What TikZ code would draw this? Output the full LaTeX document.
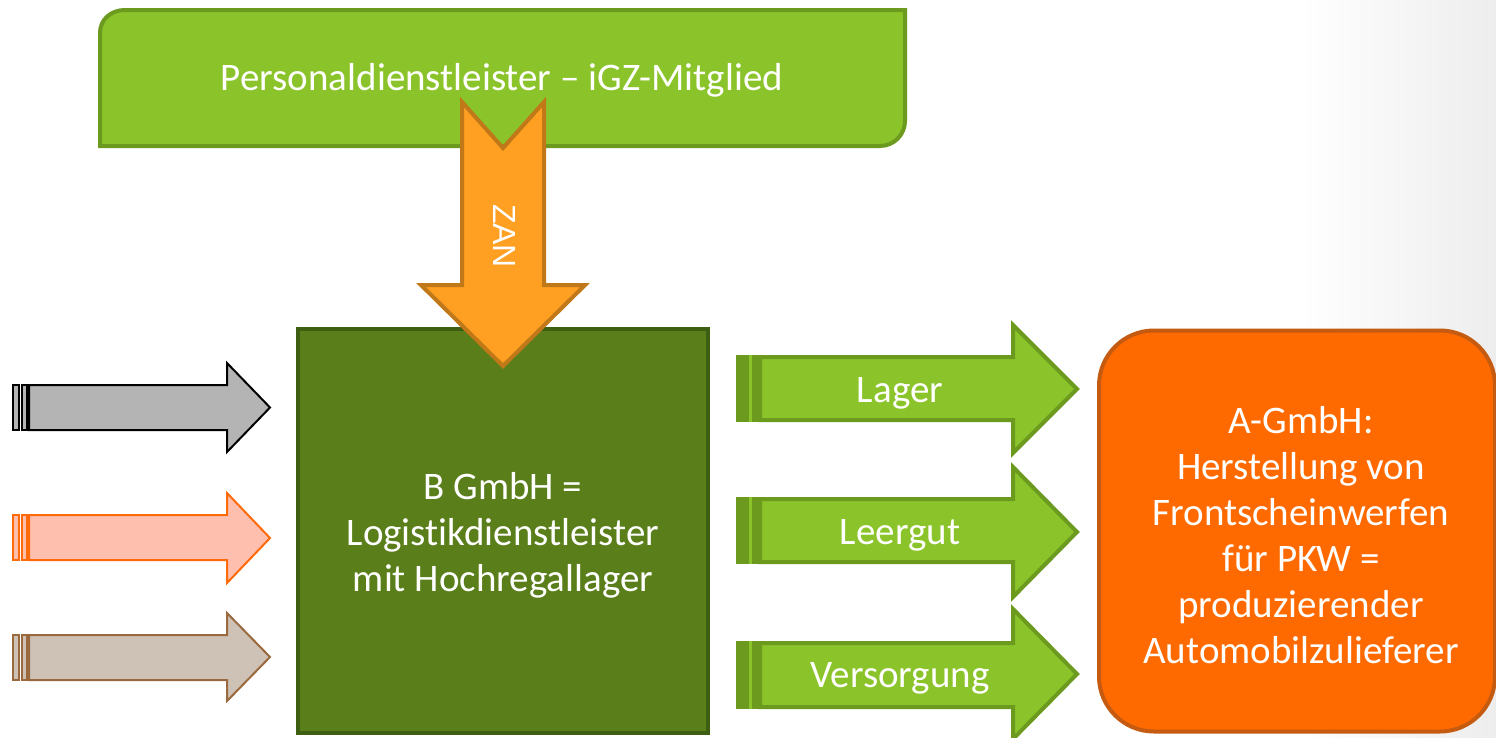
\documentclass[tikz,border=0pt]{standalone}
\usepackage{fontspec}
\setmainfont{Carlito}[Ligatures=NoCommon]
\newfontfamily\zanfont{Liberation Sans}

\definecolor{lgfill}{HTML}{8BC42A}
\definecolor{lgdraw}{HTML}{6B9A1F}
\definecolor{dgfill}{HTML}{5A7E1A}
\definecolor{dgdraw}{HTML}{3E5F12}
\definecolor{zanfill}{HTML}{FFA023}
\definecolor{zandraw}{HTML}{C07818}
\definecolor{orfill}{HTML}{FF6A00}
\definecolor{ordraw}{HTML}{C55A11}
\definecolor{greyfill}{HTML}{B4B4B4}
\definecolor{salfill}{HTML}{FFBFAE}
\definecolor{saldraw}{HTML}{FF6A0A}
\definecolor{brfill}{HTML}{CEC1B6}
\definecolor{brdraw}{HTML}{9A6A3E}

% right-pointing block arrow: style, tail x, head base x, tip x,
% shaft top, shaft bottom, head top, head bottom
\newcommand\rightblockarrow[8]{%
  \draw[#1] (#2,#5) -- (#3,#5) -- (#3,#7) -- (#4,{(#7+#8)/2})
    -- (#3,#8) -- (#3,#6) -- (#2,#6) -- cycle;}

\begin{document}
\begin{tikzpicture}[x=1pt,y=-1pt,
  txt/.style={text=white,font=\fontsize{39}{46}\selectfont,align=center},
  topbox/.style={fill=lgfill,draw=lgdraw,line width=4pt},
  midbox/.style={fill=dgfill,draw=dgdraw,line width=4pt,minimum width=410,
    minimum height=404,inner sep=0pt},
  rightbox/.style={fill=orfill,draw=ordraw,line width=4pt,rounded corners=55,
    minimum width=396,minimum height=401,inner sep=0pt},
  greyarrow/.style={fill=greyfill,draw=black,line width=2pt,line join=miter},
  salarrow/.style={fill=salfill,draw=saldraw,line width=2pt,line join=miter},
  brarrow/.style={fill=brfill,draw=brdraw,line width=2pt,line join=miter},
  greenarrow/.style={fill=lgfill,draw=lgdraw,line width=4pt,line join=miter},
  greenbar/.style={fill=lgdraw,draw=none},
  zanarrow/.style={fill=zanfill,draw=zandraw,line width=4pt,line join=miter}]

% page and soft grey fade at the right edge
\fill[white] (0,0) rectangle (1496,737);
\shade[left color=white,right color=black!7,draw=none] (1300,0) rectangle (1496,737);
\useasboundingbox (0,0) rectangle (1496,737);

% staffing provider
\draw[topbox] (100,146) -- (100,33) .. controls (100,19.2) and (111.2,10) .. (125,10)
  -- (905,10) -- (905,121) .. controls (905,134.8) and (893.8,146) .. (880,146) -- cycle;
\node[txt] (provider) at (502,80) {Personaldienstleister – iGZ-Mitglied};

% logistics provider
\node[midbox,txt] (bgmbh) at (503,531) {};
\node[txt] (bgmbhtext) at (503,535)
  {B GmbH =\\Logist\kern0pt ikdienstleister\\mit Hochregallager};

% automotive supplier
\node[rightbox,txt] (agmbh) at (1297,531) {};
\node[txt] (agmbhtext) at (1301,535)
  {A-GmbH:\\Herstellung von\\Frontscheinwerfen\\für PKW =\\produzierender\\Automobilzulieferer};

% incoming arrows on the left
\foreach \st/\a/\b/\c/\d in {greyarrow/385/430/363/452, salarrow/515/560/493/583,
                              brarrow/635/680/613/701}{
  \draw[\st] (13,\a) rectangle (19,\b);
  \draw[\st] (22,\a) rectangle (27,\b);
  \rightblockarrow{\st}{29}{227}{270}{\a}{\b}{\c}{\d}
}

% outgoing flows to the supplier
\foreach \a/\b/\c/\d in {357/420/325/453, 499/562/467/597, 643/707/609/739}{
  \fill[lgfill] (736,\a-2) rectangle (760,\b+2);
  \fill[greenbar] (736,\a-2) rectangle (749,\b+2);
  \fill[greenbar] (752,\a-2) rectangle (760,\b+2);
  \rightblockarrow{greenarrow}{760}{1013}{1077}{\a}{\b}{\c}{\d}
}
\node[txt] (lager) at (900,393) {Lager};
\node[txt] (leergut) at (900,535) {Leergut};
\node[txt] (versorgung) at (900,678) {Versorgung};

% temporary staffing arrow
\draw[zanarrow] (462,102) -- (503,148) -- (544,102) -- (544,285) -- (585,285)
  -- (503,366) -- (421,285) -- (462,285) -- cycle;
\node[text=white,font=\zanfont\fontsize{32}{36}\selectfont,rotate=-90] (zan) at (505,236) {ZAN};
\end{tikzpicture}
\end{document}
